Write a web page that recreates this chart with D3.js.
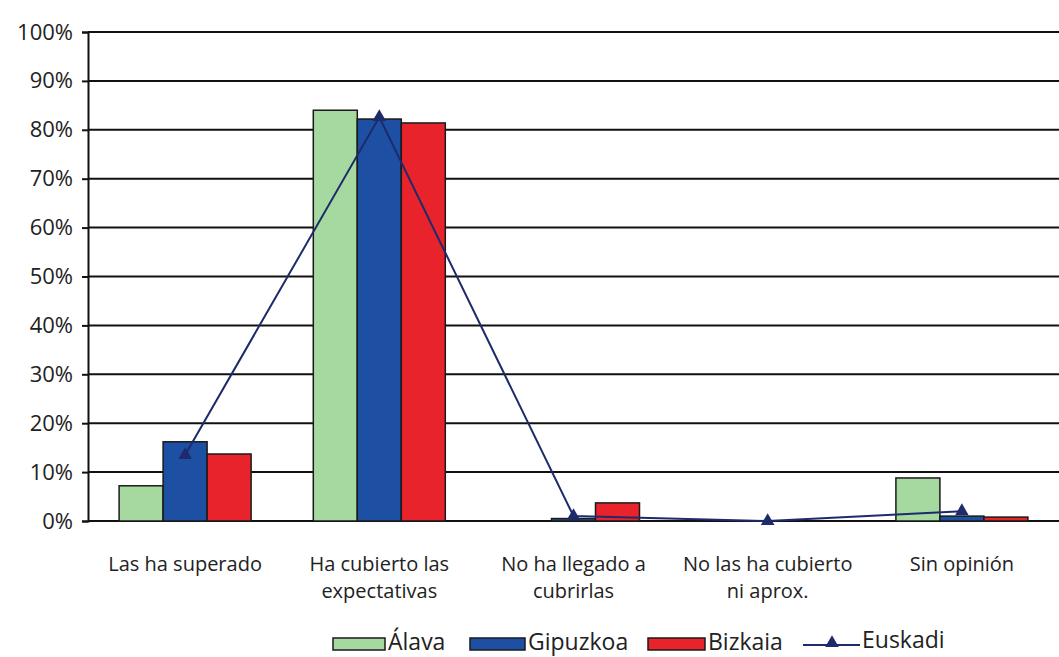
<!DOCTYPE html>
<html>
<head>
<meta charset="utf-8">
<script src="https://cdn.jsdelivr.net/npm/d3@7"></script>
<style>
  body { margin: 0; background: #fff; }
  text { font-family: "Open Sans", "Lato", sans-serif; fill: #222; }
</style>
</head>
<body>
<div id="chart"></div>
<script>
var categories = [
    ["Las ha superado"],
    ["Ha cubierto las", "expectativas"],
    ["No ha llegado a", "cubrirlas"],
    ["No las ha cubierto", "ni aprox."],
    ["Sin opinión"]
];
var seriesNames = ["Álava", "Gipuzkoa", "Bizkaia"];
var alava    = [7.2, 84.0, 0.0, 0.0, 8.8];
var gipuzkoa = [16.2, 82.2, 0.5, 0.0, 1.0];
var bizkaia  = [13.7, 81.4, 3.7, 0.0, 0.8];
var euskadi  = [13.5, 82.6, 1.0, 0.0, 2.0];
var yTicks = [0, 10, 20, 30, 40, 50, 60, 70, 80, 90, 100];
var colors = ["#a6d9a0", "#1d4fa3", "#e9232b"];
var lineColor = "#1e2b6a";

var W = 1059, H = 657;
var margin = {top: 32, left: 88, right: 0, bottom: 136};
var width = W - margin.left - margin.right;
var height = H - margin.top - margin.bottom;

var svg = d3.select("#chart").append("svg")
    .attr("width", W).attr("height", H);
var g = svg.append("g")
    .attr("transform", "translate(" + margin.left + "," + margin.top + ")");

var x = d3.scaleBand().domain(d3.range(categories.length)).range([0, width]);
var xs = d3.scaleBand().domain(seriesNames).range([0, 132]);
var y = d3.scaleLinear().domain([0, 100]).range([height, 0]);

// gridlines
g.selectAll(".grid").data(yTicks).enter().append("line")
    .attr("x1", 0).attr("x2", width)
    .attr("y1", function(d) { return y(d); })
    .attr("y2", function(d) { return y(d); })
    .style("stroke", "#111").style("stroke-width", 2);

// y axis
var yAxis = g.append("g")
    .call(d3.axisLeft(y).tickValues(yTicks).tickSize(6).tickPadding(9)
        .tickFormat(function(d) { return d + "%"; }));
yAxis.select(".domain").style("stroke", "#111").style("stroke-width", 2);
yAxis.selectAll(".tick line").style("stroke", "#111").style("stroke-width", 2);
yAxis.selectAll("text").style("font-size", "22px").style("fill", "#222")
    .style("font-family", "'Open Sans', Lato, sans-serif");

var series = [alava, gipuzkoa, bizkaia];
series.forEach(function(vals, si) {
    g.selectAll(".bar" + si).data(vals).enter().append("rect")
        .attr("x", function(d, i) { return x(i) + x.bandwidth() / 2 - 66 + xs(seriesNames[si]); })
        .attr("y", function(d) { return y(d); })
        .attr("width", xs.bandwidth())
        .attr("height", function(d) { return height - y(d); })
        .style("fill", colors[si])
        .style("stroke", "#1a1a1a").style("stroke-width", 1.5);
});

// Euskadi line
var line = d3.line()
    .x(function(d, i) { return x(i) + x.bandwidth() / 2; })
    .y(function(d) { return y(d); });
g.append("path").datum(euskadi)
    .attr("d", line)
    .style("fill", "none").style("stroke", lineColor).style("stroke-width", 2);
g.selectAll(".pt").data(euskadi).enter().append("path")
    .attr("d", d3.symbol().type(d3.symbolTriangle).size(80))
    .attr("transform", function(d, i) {
        return "translate(" + (x(i) + x.bandwidth() / 2) + "," + y(d) + ")";
    })
    .style("fill", lineColor);

// category labels
categories.forEach(function(lines, i) {
    var t = g.append("text")
        .attr("x", x(i) + x.bandwidth() / 2)
        .attr("y", 571 - margin.top)
        .attr("text-anchor", "middle")
        .style("font-size", "20px");
    lines.forEach(function(l, k) {
        t.append("tspan").attr("x", x(i) + x.bandwidth() / 2)
            .attr("dy", k === 0 ? 0 : 27).text(l);
    });
});

// legend
var legend = svg.append("g").attr("transform", "translate(0,643)");
var legItems = [
    {name: "Álava", x: 333, w: 52},
    {name: "Gipuzkoa", x: 470, w: 55},
    {name: "Bizkaia", x: 648, w: 57}
];
legItems.forEach(function(d, i) {
    legend.append("rect").attr("x", d.x).attr("y", -5).attr("width", d.w).attr("height", 12)
        .style("fill", colors[i]).style("stroke", "#1a1a1a").style("stroke-width", 1.5);
    legend.append("text").attr("x", d.x + d.w + 3).attr("y", 7)
        .style("font-size", "23px").text(d.name);
});
legend.append("line").attr("x1", 803).attr("x2", 860).attr("y1", 2).attr("y2", 2)
    .style("stroke", lineColor).style("stroke-width", 2);
legend.append("path").attr("d", d3.symbol().type(d3.symbolTriangle).size(80))
    .attr("transform", "translate(832,0)").style("fill", lineColor);
legend.append("text").attr("x", 862).attr("y", 5)
    .style("font-size", "23px").text("Euskadi");
</script>
</body>
</html>
